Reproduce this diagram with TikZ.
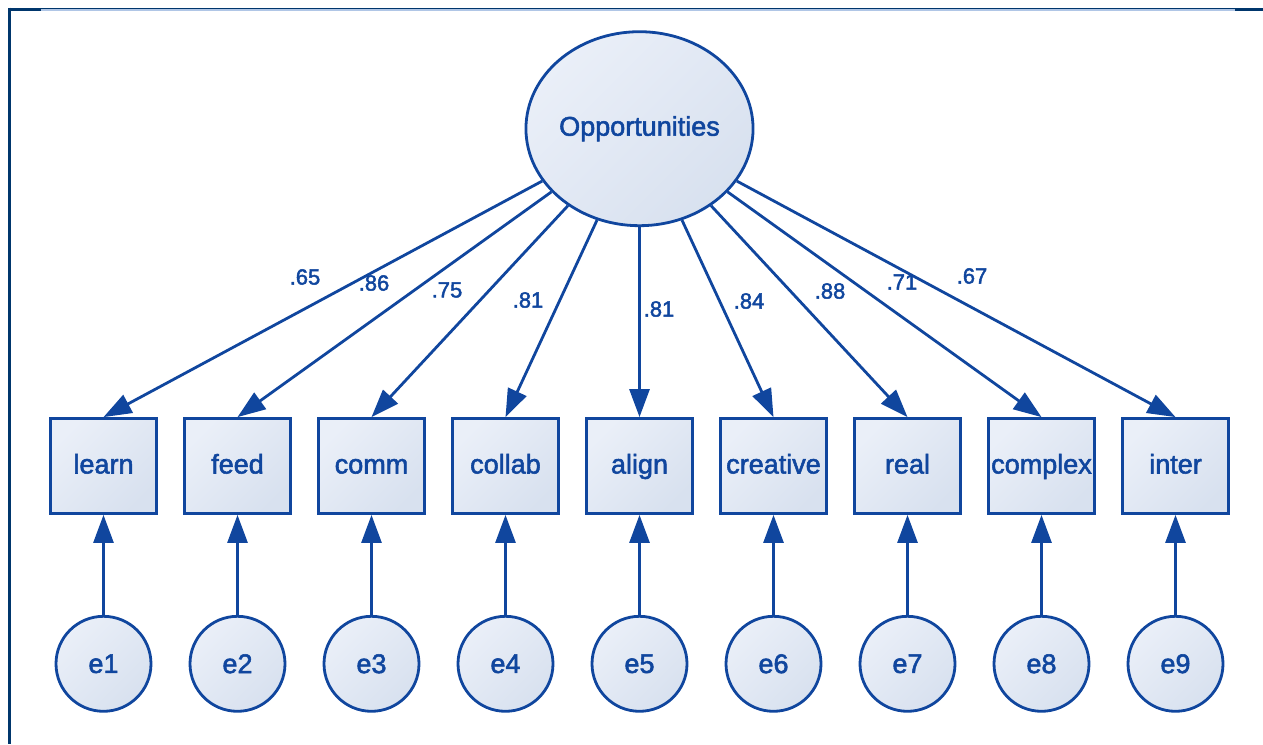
\documentclass[tikz,border=0pt]{standalone}
\usepackage{fontspec}
\setmainfont{Liberation Sans}[FakeBold=2]
\usepackage{xcolor}
\usepackage{tikz}
\usetikzlibrary{positioning,shapes.geometric,arrows.meta}

\definecolor{semblue}{RGB}{16,70,158}
\definecolor{semfillA}{RGB}{234,239,248}
\definecolor{semfillB}{RGB}{216,225,239}
\definecolor{framenavy}{RGB}{0,54,108}
\definecolor{framelight}{RGB}{176,198,230}

\begin{document}
\begin{tikzpicture}[
  x=0.5pt,y=-0.5pt,
  font=\fontsize{13.5}{15}\selectfont,
  text=semblue,
  shade/.style={draw=semblue,line width=1.4pt,top color=semfillA,bottom color=semfillB,shading angle=45},
  obs/.style={shade,rectangle,minimum width=53pt,minimum height=47.5pt,inner sep=1pt,text height=10pt,text depth=2.5pt},
  latent/.style={shade,ellipse,minimum width=107pt,minimum height=97pt,inner sep=0pt},
  err/.style={shade,circle,minimum size=47.5pt,inner sep=0pt},
  lbl/.style={font=\fontsize{11}{12}\selectfont,inner sep=0pt},
  arr/.style={-{Triangle[length=14pt,width=10pt]},semblue,line width=1.4pt},
  node distance=12.6pt,
]
\useasboundingbox (0,0) rectangle (1263,744);
% frame
\draw[framelight,line width=1pt] (41,10) -- (1235,10);
\draw[framenavy,line width=0.6pt] (9,8.4) -- (1263,8.4);
\draw[framenavy,line width=1.5pt] (9,9) -- (41,9);
\draw[framenavy,line width=1.5pt] (1235,9) -- (1263,9);
\draw[framenavy,line width=1.5pt] (9,7.5) -- (9,744);

% indicators
\node[obs] (learn) at (103.5,466) {learn};
\node[obs, right=of learn] (feed) {feed};
\node[obs, right=of feed] (comm) {comm};
\node[obs, right=of comm] (collab) {collab};
\node[obs, right=of collab] (align) {align};
\node[obs, right=of align] (creative) {creative};
\node[obs, right=of creative] (real) {real};
\node[obs, right=of real] (complex) {complex};
\node[obs, right=of complex] (inter) {inter};

% factor
\node[latent, above=95pt of align] (opp) {Opportunities};

% error terms
\node[err, below=50pt of learn] (e1) {e1};
\node[err, below=50pt of feed] (e2) {e2};
\node[err, below=50pt of comm] (e3) {e3};
\node[err, below=50pt of collab] (e4) {e4};
\node[err, below=50pt of align] (e5) {e5};
\node[err, below=50pt of creative] (e6) {e6};
\node[err, below=50pt of real] (e7) {e7};
\node[err, below=50pt of complex] (e8) {e8};
\node[err, below=50pt of inter] (e9) {e9};

% loadings
\draw[arr] (opp) -- (learn.north);
\draw[arr] (opp) -- (feed.north);
\draw[arr] (opp) -- (comm.north);
\draw[arr] (opp) -- (collab.north);
\draw[arr] (opp) -- (align.north);
\draw[arr] (opp) -- (creative.north);
\draw[arr] (opp) -- (real.north);
\draw[arr] (opp) -- (complex.north);
\draw[arr] (opp) -- (inter.north);

\node[lbl] (w1) at (305,277) {.65};
\node[lbl] (w2) at (374,283) {.86};
\node[lbl] (w3) at (447,290) {.75};
\node[lbl] (w4) at (528,300) {.81};
\node[lbl] (w5) at (659,309) {.81};
\node[lbl] (w6) at (749,301) {.84};
\node[lbl] (w7) at (830,291) {.88};
\node[lbl] (w8) at (902,282) {.71};
\node[lbl] (w9) at (972,276) {.67};

% residuals
\draw[arr] (e1) -- (learn);
\draw[arr] (e2) -- (feed);
\draw[arr] (e3) -- (comm);
\draw[arr] (e4) -- (collab);
\draw[arr] (e5) -- (align);
\draw[arr] (e6) -- (creative);
\draw[arr] (e7) -- (real);
\draw[arr] (e8) -- (complex);
\draw[arr] (e9) -- (inter);
\end{tikzpicture}
\end{document}
